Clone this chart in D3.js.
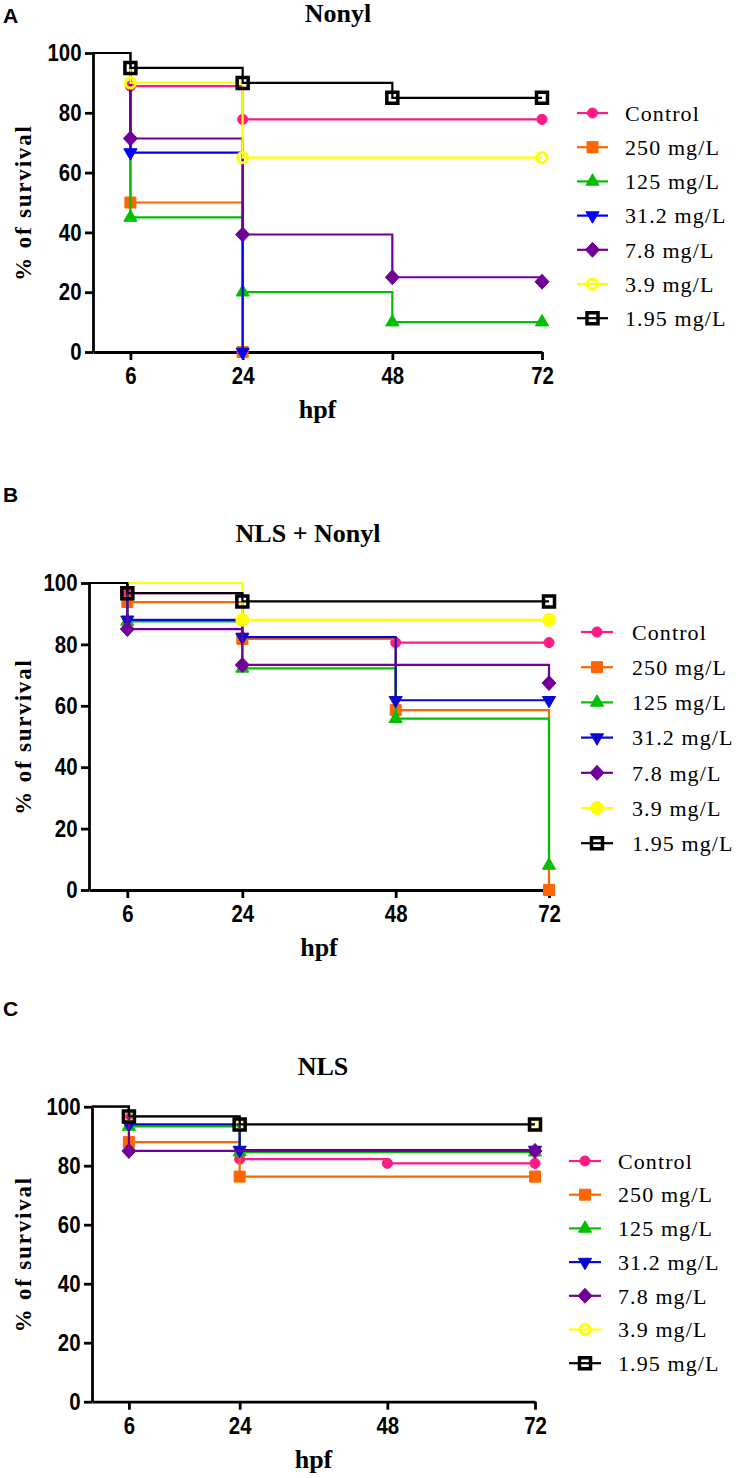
<!DOCTYPE html>
<html><head><meta charset="utf-8">
<script src="https://cdn.jsdelivr.net/npm/d3@7"></script>
<style>body{margin:0;background:#fff}svg{display:block}</style>
</head><body>
<svg id="chart" width="742" height="1478"></svg>
<script>
// ---------- data ----------
const seriesNames = ["Control", "250 mg/L", "125 mg/L", "31.2 mg/L", "7.8 mg/L", "3.9 mg/L", "1.95 mg/L"];
const xTickValues = [6, 24, 48, 72];
const yTickValues = [0, 20, 40, 60, 80, 100];
const panelTitles = ["Nonyl", "NLS + Nonyl", "NLS"];
const panelLetters = ["A", "B", "C"];
const xLabel = "hpf";
const yLabel = "% of survival";

// Panel A: Nonyl  [hpf, % survival]
const nonylControl = [[6, 88.9], [24, 77.8], [72, 77.8]];
const nonyl250 = [[6, 50], [24, 0]];
const nonyl125 = [[6, 45], [24, 20], [48, 10], [72, 10]];
const nonyl31 = [[6, 66.7], [24, 0]];
const nonyl78 = [[6, 71.4], [24, 39.3], [48, 25], [72, 23.5]];
const nonyl39 = [[6, 90], [24, 65], [72, 65]];
const nonyl195 = [[6, 95], [24, 90], [48, 85], [72, 85]];

// Panel B: NLS + Nonyl
const nlsNonylControl = [[6, 96.7], [24, 82.2], [48, 80.6], [72, 80.6]];
const nlsNonyl250 = [[6, 93.8], [24, 81.8], [48, 58.6], [72, 0]];
const nlsNonyl125 = [[6, 87.5], [24, 72.2], [48, 55.8], [72, 8]];
const nlsNonyl31 = [[6, 88], [24, 82.4], [48, 61.8], [72, 61.8]];
const nlsNonyl78 = [[6, 85], [24, 73.3], [72, 67.4]];
const nlsNonyl39 = [[24, 88], [72, 88]];
const nlsNonyl195 = [[6, 96.7], [24, 94], [72, 94]];

// Panel C: NLS
const nlsControl = [[6, 96.7], [24, 82.2], [48, 80.8], [72, 80.8]];
const nls250 = [[6, 88], [24, 76.3], [72, 76.3]];
const nls125 = [[6, 93.3], [24, 84.6], [72, 84.6]];
const nls31 = [[6, 94], [24, 85.3], [72, 85.3]];
const nls78 = [[6, 85], [72, 85]];
const nls39 = [[6, 96.7], [24, 94], [72, 94]];
const nls195 = [[6, 96.7], [24, 94], [72, 94]];

// ---------- styles ----------
const PINK = "#FF1A85", ORANGE = "#FF6600", GREEN = "#00C000", PURPLE = "#700098", YELLOW = "#FFFF00";
function stylesFor(blue, yellowFilled) {
  return [
    {color: PINK, shape: "circle", fill: true},
    {color: ORANGE, shape: "square", fill: true},
    {color: GREEN, shape: "triUp", fill: true},
    {color: blue, shape: "triDown", fill: true},
    {color: PURPLE, shape: "diamond", fill: true},
    {color: YELLOW, shape: yellowFilled ? "bigcircle" : "circle", fill: yellowFilled},
    {color: "#000", shape: "square", fill: false}
  ];
}

const panels = [
  {series: [nonylControl, nonyl250, nonyl125, nonyl31, nonyl78, nonyl39, nonyl195],
   x0: 93, x1: 542, yTop: 53, yBot: 352, titleX: 338, titleY: 22, letterY: 23,
   legX0: 577, legX1: 608, legText: 625, legY: 113, legDy: 34.2, styles: stylesFor("#0000FF", false)},
  {series: [nlsNonylControl, nlsNonyl250, nlsNonyl125, nlsNonyl31, nlsNonyl78, nlsNonyl39, nlsNonyl195],
   x0: 89, x1: 549, yTop: 583, yBot: 890, titleX: 308, titleY: 542, letterY: 502,
   legX0: 581, legX1: 613, legText: 632, legY: 632, legDy: 35.2, styles: stylesFor("#0A0ACC", true)},
  {series: [nlsControl, nls250, nls125, nls31, nls78, nls39, nls195],
   x0: 92, x1: 535, yTop: 1106.7, yBot: 1401.7, titleX: 323, titleY: 1075, letterY: 1016,
   legX0: 569, legX1: 601, legText: 618, legY: 1161, legDy: 33.7, styles: stylesFor("#0A0ACC", false)}
];

const svg = d3.select("#chart");

function markerPath(shape) {
  switch (shape) {
    case "circle": return d3.symbol(d3.symbolCircle, 80)();
    case "bigcircle": return d3.symbol(d3.symbolCircle, 130)();
    case "square": return "M-5.5,-5.5H5.5V5.5H-5.5Z";
    case "triUp": return d3.symbol(d3.symbolTriangle, 75)();
    case "triDown": return d3.symbol(d3.symbolTriangle, 75)();
    case "diamond": return "M0,-7.5L7,0L0,7.5L-7,0Z";
  }
}
function drawMarker(g, st, cx, cy) {
  const p = g.append("path").attr("d", markerPath(st.shape))
    .attr("transform", `translate(${cx},${cy})` + (st.shape === "triDown" ? " rotate(180)" : ""));
  if (st.fill) {
    p.attr("fill", st.color).attr("stroke", st.color).attr("stroke-width", 1);
  } else {
    p.attr("fill", "none").attr("stroke", st.color).attr("stroke-width", st.shape === "square" ? 3.5 : 3);
  }
}

panels.forEach((P, pi) => {
  const x = d3.scaleLinear().domain([0, 72]).range([P.x0, P.x1]);
  const y = d3.scaleLinear().domain([0, 100]).range([P.yBot, P.yTop]);
  const g = svg.append("g");

  // panel letter
  g.append("text").attr("x", 3).attr("y", P.letterY).text(panelLetters[pi])
    .attr("font-family", "Liberation Sans, Arial, sans-serif").attr("font-weight", "bold").attr("font-size", 21);
  // title
  g.append("text").attr("x", P.titleX).attr("y", P.titleY).attr("text-anchor", "middle").text(panelTitles[pi])
    .attr("font-family", "Liberation Serif, Times New Roman, serif").attr("font-weight", "bold").attr("font-size", 26);

  // axes
  const ya = g.append("g").attr("transform", `translate(${P.x0},0)`)
    .call(d3.axisLeft(y).tickValues(yTickValues).tickSize(8).tickSizeOuter(0).tickPadding(3));
  const xa = g.append("g").attr("transform", `translate(0,${P.yBot})`)
    .call(d3.axisBottom(x).tickValues(xTickValues).tickSize(8).tickSizeOuter(0).tickPadding(7));
  [ya, xa].forEach(a => {
    a.select(".domain").attr("stroke", "#000").attr("stroke-width", 2.8);
    a.selectAll(".tick line").attr("stroke", "#000").attr("stroke-width", 2.8);
    a.selectAll(".tick text").attr("fill", "#000")
      .attr("font-family", "Liberation Sans, Arial, sans-serif").attr("font-weight", "bold").attr("font-size", 24);
  });
  ya.selectAll(".tick text").attr("x", -13.5).attr("transform", "scale(0.85,1)");
  xa.selectAll(".tick text").attr("transform", "scale(0.85,1)");

  // axis labels
  g.append("text").attr("transform", `translate(31,${(P.yTop + P.yBot) / 2}) rotate(-90)`)
    .attr("text-anchor", "middle").text(yLabel)
    .attr("font-family", "Liberation Serif, Times New Roman, serif").attr("font-weight", "bold")
    .attr("font-size", 23).attr("letter-spacing", 1.8);
  g.append("text").attr("x", (P.x0 + P.x1) / 2).attr("y", P.yBot + 66).attr("text-anchor", "middle").text(xLabel)
    .attr("font-family", "Liberation Serif, Times New Roman, serif").attr("font-weight", "bold").attr("font-size", 26);

  // survival step curves
  const line = d3.line().x(d => x(d[0])).y(d => y(d[1])).curve(d3.curveStepAfter);
  P.series.forEach((data, si) => {
    const st = P.styles[si];
    const sg = g.append("g");
    sg.append("path").attr("d", line([[0, 100], ...data]))
      .attr("fill", "none").attr("stroke", st.color).attr("stroke-width", 2.2);
    data.forEach(d => drawMarker(sg, st, x(d[0]), y(d[1])));
  });

  // legend
  seriesNames.forEach((name, si) => {
    const st = P.styles[si];
    const ly = P.legY + si * P.legDy;
    const lg = g.append("g");
    lg.append("line").attr("x1", P.legX0).attr("x2", P.legX1).attr("y1", ly).attr("y2", ly)
      .attr("stroke", st.color).attr("stroke-width", 2.2);
    drawMarker(lg, st, (P.legX0 + P.legX1) / 2, ly);
    lg.append("text").attr("x", P.legText).attr("y", ly).attr("dy", "0.35em").text(name)
      .attr("font-family", "Liberation Serif, Times New Roman, serif").attr("font-size", 22)
      .attr("letter-spacing", 1.1).attr("fill", "#000");
  });
});
</script>
</body></html>
